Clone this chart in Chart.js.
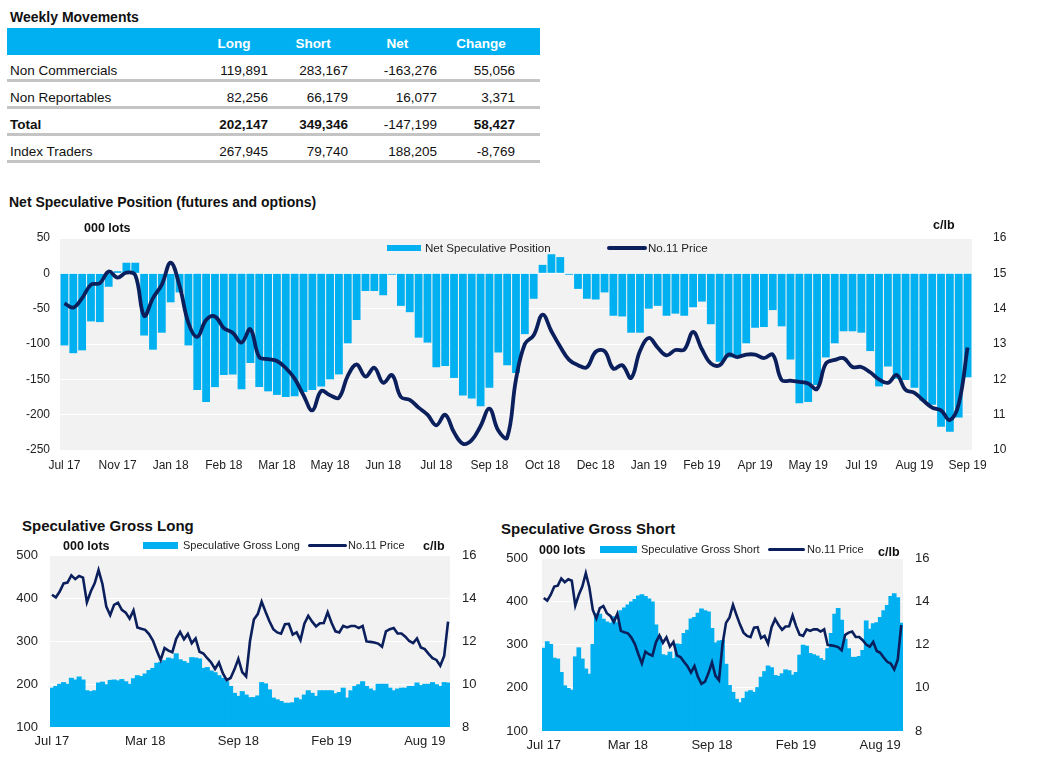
<!DOCTYPE html>
<html lang="en">
<head>
<meta charset="UTF-8">
<title>Speculative Positions</title>
<script src="https://cdn.jsdelivr.net/npm/chart.js@4.4.0/dist/chart.umd.min.js"></script>
<style>
  body { margin: 0; width: 1038px; height: 760px; position: relative; overflow: hidden;
         background: #fff; color: #111; font-family: 'Liberation Sans', Arial, sans-serif; }
  .abs { position: absolute; white-space: nowrap; }
  .title { font-weight: bold; font-size: 14px; line-height: 16px; }
  .title.big { font-size: 15px; line-height: 17px; }
  .unit { font-weight: bold; font-size: 12.5px; line-height: 14px; }
  .leg { font-size: 11px; line-height: 13px; color: #222; }
  .leg.main { font-size: 11.6px; }
  .swatch-bar { position: absolute; background: #00B0F0; }
  .swatch-line { position: absolute; background: #0A1F5C; border-radius: 2px; }
  canvas { position: absolute; }

  table.moves { position: absolute; left: 7px; top: 28px; width: 533px; border-collapse: collapse;
                table-layout: fixed; font-size: 13.5px; }
  .moves th { background: #00B0F0; color: #fff; font-weight: bold; text-align: center;
              line-height: 15px; padding: 8px 10px 4px 0; }
  .moves td { text-align: right; line-height: 15px; padding: 8px 10px 1px 0;
              border-bottom: 3px solid #C4C4C4; }
  .moves td:first-child { text-align: left; padding-left: 3px; }
  .moves th:last-child, .moves td:last-child { padding-right: 25px; }
  .moves tr.total td { font-weight: bold; }
  .moves tr.total td.plain { font-weight: normal; }
</style>
</head>
<body>

<div class="abs title" style="left:10px; top:9px;">Weekly Movements</div>
<table class="moves">
  <colgroup><col style="width:193px"><col style="width:78px"><col style="width:80px"><col style="width:89px"><col style="width:93px"></colgroup>
  <thead><tr><th></th><th>Long</th><th>Short</th><th>Net</th><th>Change</th></tr></thead>
  <tbody>
    <tr><td>Non Commercials</td><td>119,891</td><td>283,167</td><td>-163,276</td><td>55,056</td></tr>
    <tr><td>Non Reportables</td><td>82,256</td><td>66,179</td><td>16,077</td><td>3,371</td></tr>
    <tr class="total"><td>Total</td><td>202,147</td><td>349,346</td><td class="plain">-147,199</td><td>58,427</td></tr>
    <tr><td>Index Traders</td><td>267,945</td><td>79,740</td><td>188,205</td><td>-8,769</td></tr>
  </tbody>
</table>

<div class="abs title" style="left:9px; top:194px;">Net Speculative Position (futures and options)</div>
<canvas id="netChart" width="1038" height="250" style="left:0; top:225px;"></canvas>
<div class="abs unit" style="left:84px; top:221px;">000 lots</div>
<div class="abs unit" style="left:933px; top:218px;">c/lb</div>
<div class="swatch-bar" style="left:387px; top:245px; width:34px; height:6px;"></div>
<div class="abs leg main" style="left:425px; top:241px;">Net Speculative Position</div>
<div class="swatch-line" style="left:607px; top:246px; width:40px; height:4px;"></div>
<div class="abs leg main" style="left:648px; top:241px;">No.11 Price</div>

<div class="abs title big" style="left:22px; top:517px;">Speculative Gross Long</div>
<canvas id="longChart" width="520" height="220" style="left:0; top:540px;"></canvas>
<div class="abs unit" style="left:63px; top:539px;">000 lots</div>
<div class="swatch-bar" style="left:143px; top:542px; width:35px; height:7px;"></div>
<div class="abs leg" style="left:183px; top:539px;">Speculative Gross Long</div>
<div class="swatch-line" style="left:308px; top:544px; width:39px; height:3px;"></div>
<div class="abs leg" style="left:348px; top:539px;">No.11 Price</div>
<div class="abs unit" style="left:423px; top:539px;">c/lb</div>

<div class="abs title big" style="left:501px; top:520px;">Speculative Gross Short</div>
<canvas id="shortChart" width="450" height="225" style="left:490px; top:540px;"></canvas>
<div class="abs unit" style="left:539px; top:543px;">000 lots</div>
<div class="swatch-bar" style="left:600px; top:546px; width:37px; height:7px;"></div>
<div class="abs leg" style="left:641px; top:543px;">Speculative Gross Short</div>
<div class="swatch-line" style="left:768px; top:548px; width:37px; height:3px;"></div>
<div class="abs leg" style="left:807px; top:543px;">No.11 Price</div>
<div class="abs unit" style="left:878px; top:545px;">c/lb</div>

<script>
// weekly data, Jul 17 .. Sep 19 (103 weeks)
const netTicks = ['Jul 17', 'Nov 17', 'Jan 18', 'Feb 18', 'Mar 18', 'May 18', 'Jun 18', 'Jul 18', 'Sep 18',
                  'Oct 18', 'Dec 18', 'Jan 19', 'Feb 19', 'Apr 19', 'May 19', 'Jul 19', 'Aug 19', 'Sep 19'];
const grossTicks = ['Jul 17', 'Mar 18', 'Sep 18', 'Feb 19', 'Aug 19'];

// net speculative position, 000 lots
const netSpec = [
  -102, -113, -109, -68, -69, -19, 3, 15, 15, -88,
  -108, -84, -41, -27, -102, -165, -182, -161, -144, -143,
  -164, -127, -161, -167, -172, -175, -174, -168, -165, -160,
  -150, -143, -99, -66, -25, -25, -31, -2, -46, -55,
  -91, -98, -133, -131, -148, -173, -177, -188, -162, -112,
  -130, -141, -86, -36, 12, 27, 23, -2, -22, -36,
  -37, -27, -60, -61, -84, -84, -50, -46, -60, -57,
  -60, -48, -40, -72, -125, -119, -116, -99, -77, -76,
  -52, -75, -122, -184, -182, -158, -119, -99, -82, -82,
  -84, -110, -160, -132, -149, -151, -162, -180, -186, -217,
  -224, -204, -147
];

// No.11 price, c/lb
const price = [
  14.15, 14.03, 14.3, 14.68, 14.72, 15.05, 14.88, 15.02, 14.95, 13.8,
  14.3, 14.68, 15.3, 14.65, 13.6, 13.2, 13.68, 13.78, 13.45, 13.32,
  13.04, 13.42, 12.63, 12.57, 12.52, 12.32, 12.02, 11.55, 11.12, 11.67,
  11.55, 11.48, 12.1, 12.42, 12.08, 12.33, 11.9, 12.12, 11.5, 11.42,
  11.2, 11.0, 10.7, 11.0, 10.5, 10.18, 10.28, 10.68, 11.17, 10.55,
  10.35, 12.0, 13.0, 13.25, 13.83, 13.36, 12.92, 12.55, 12.4, 12.34,
  12.78, 12.8, 12.3, 12.4, 12.04, 12.8, 13.17, 12.9, 12.68, 12.83,
  12.84, 13.34, 12.85, 12.45, 12.4, 12.7, 12.63, 12.7, 12.7, 12.6,
  12.7, 11.98, 11.96, 11.93, 11.88, 11.73, 12.45, 12.55, 12.6, 12.35,
  12.35, 12.2, 12.0, 11.9, 12.12, 11.7, 11.62, 11.4, 11.2, 11.12,
  10.85, 11.3, 12.9
];

// speculative gross long, 000 lots
const grossLong = [
  190, 194, 199, 203, 199, 213, 209, 216, 209, 184,
  182, 184, 202, 204, 198, 208, 209, 207, 210, 205,
  199, 212, 219, 217, 223, 231, 236, 248, 250, 254,
  260, 258, 270, 256, 252, 248, 261, 260, 258, 236,
  238, 230, 226, 219, 213, 205, 194, 178, 171, 182,
  174, 168, 168, 172, 203, 200, 186, 167, 163, 159,
  155, 155, 156, 167, 163, 174, 184, 178, 171, 184,
  184, 184, 184, 177, 180, 190, 167, 184, 194, 198,
  205, 194, 188, 184, 199, 199, 199, 190, 184, 188,
  190, 190, 194, 194, 202, 196, 199, 199, 203, 198,
  194, 203, 202
];

// speculative gross short, 000 lots
const grossShort = [
  291, 306, 300, 268, 266, 235, 204, 198, 194, 271,
  292, 266, 243, 231, 300, 371, 370, 358, 352, 349,
  364, 350, 378, 384, 391, 398, 404, 412, 415, 411,
  405, 398, 345, 318, 276, 274, 282, 267, 301, 300,
  325, 333, 359, 362, 372, 382, 378, 375, 337, 303,
  308, 309, 254, 205, 189, 173, 165, 175, 190, 193,
  189, 200, 224, 237, 250, 246, 228, 226, 232, 241,
  239, 229, 235, 275, 298, 296, 279, 276, 273, 267,
  263, 290, 325, 370, 383, 356, 312, 290, 270, 270,
  272, 286, 354, 335, 348, 350, 362, 378, 390, 411,
  417, 408, 349
];

const weeks = netSpec.map((v, i) => i);

const CYAN = '#00B0F0';
const NAVY = '#0A1F5C';
const TICK = '#222';

Chart.defaults.font.family = "'Liberation Sans', Arial, sans-serif";

// grey plot area like the original
const plotBg = {
  id: 'plotBg',
  beforeDraw(chart) {
    const a = chart.chartArea;
    const ctx = chart.ctx;
    ctx.save();
    ctx.fillStyle = '#F2F2F2';
    ctx.fillRect(a.left, a.top, a.right - a.left, a.bottom - a.top);
    ctx.restore();
  }
};

function comboChart(id, o) {
  return new Chart(document.getElementById(id), {
    type: 'bar',
    data: {
      labels: weeks,
      datasets: [
        { type: 'line', label: 'No.11 Price', data: price, yAxisID: 'y1', borderColor: NAVY,
          borderWidth: o.lineWidth, pointRadius: 0, tension: o.tension, order: 0 },
        { label: o.barLabel, data: o.bars, backgroundColor: CYAN, borderWidth: 0,
          barPercentage: o.barPct, categoryPercentage: 1, inflateAmount: o.inflate, order: 1 }
      ]
    },
    options: {
      responsive: false,
      animation: false,
      layout: { padding: { top: o.top, left: 0, right: 0, bottom: 0 } },
      plugins: { legend: { display: false }, tooltip: { enabled: false } },
      scales: {
        x: {
          grid: { display: false, drawTicks: false },
          border: { display: false },
          ticks: { autoSkip: false, maxRotation: 0, minRotation: 0, padding: o.xPad, color: TICK,
                   font: { size: o.font },
                   callback: (v, i) => i % o.every === 0 ? o.ticks[i / o.every] : '' },
          afterFit(s) { s.height = o.xHeight; s.paddingLeft = 0; s.paddingRight = 0; }
        },
        y: {
          position: 'left', min: o.yMin, max: o.yMax,
          ticks: { stepSize: o.yStep, padding: o.lPad, color: TICK, font: { size: o.font } },
          grid: { color: '#fff', lineWidth: 1, drawTicks: false },
          border: { display: false },
          afterFit(s) { s.width = o.left; s.paddingTop = 0; s.paddingBottom = 0; }
        },
        y1: {
          position: 'right', min: o.pMin, max: 16,
          ticks: { stepSize: o.pStep, padding: o.rPad, color: TICK, font: { size: o.font } },
          grid: { display: false, drawTicks: false },
          border: { display: false },
          afterFit(s) { s.width = o.right; s.paddingTop = 0; s.paddingBottom = 0; }
        }
      }
    },
    plugins: [plotBg]
  });
}

comboChart('netChart', {
  bars: netSpec, barLabel: 'Net Speculative Position', barPct: 0.88, inflate: 0,
  lineWidth: 3.8, tension: 0.4, top: 13, left: 60, right: 66, xHeight: 25, xPad: 8,
  lPad: 10, rPad: 21, font: 12, yMin: -250, yMax: 50, yStep: 50, pMin: 10, pStep: 1,
  ticks: netTicks, every: 6
});

comboChart('longChart', {
  bars: grossLong, barLabel: 'Speculative Gross Long', barPct: 1, inflate: 0.6,
  lineWidth: 2.6, tension: 0, top: 15, left: 50, right: 70, xHeight: 33, xPad: 7,
  lPad: 12, rPad: 12, font: 13, yMin: 100, yMax: 500, yStep: 100, pMin: 8, pStep: 2,
  ticks: grossTicks, every: 24
});

comboChart('shortChart', {
  bars: grossShort, barLabel: 'Speculative Gross Short', barPct: 1, inflate: 0.6,
  lineWidth: 2.6, tension: 0, top: 18, left: 52, right: 37, xHeight: 34, xPad: 7,
  lPad: 14, rPad: 12, font: 13, yMin: 100, yMax: 500, yStep: 100, pMin: 8, pStep: 2,
  ticks: grossTicks, every: 24
});
</script>
</body>
</html>
